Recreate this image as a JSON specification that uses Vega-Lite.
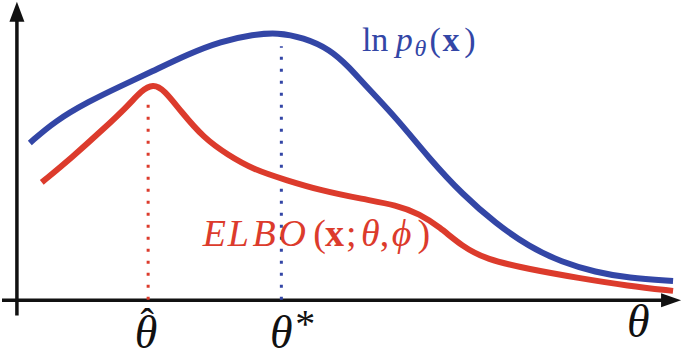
{
  "$schema": "https://vega.github.io/schema/vega-lite/v6.json",
  "width": 685,
  "height": 357,
  "padding": 0,
  "autosize": {"type": "fit", "contains": "padding"},
  "background": "white",
  "config": {"view": {"stroke": null}},
  "datasets": {
    "curves": [
      {"series": "log", "x": 1.3, "y": 15.9},
      {"series": "log", "x": 3.8, "y": 18.1},
      {"series": "log", "x": 7.2, "y": 20.1},
      {"series": "log", "x": 10.5, "y": 21.7},
      {"series": "log", "x": 13.5, "y": 23.1},
      {"series": "log", "x": 17.2, "y": 24.9},
      {"series": "log", "x": 20.5, "y": 26.2},
      {"series": "log", "x": 23.8, "y": 26.9},
      {"series": "log", "x": 26.2, "y": 27.1},
      {"series": "log", "x": 28.8, "y": 26.6},
      {"series": "log", "x": 31.5, "y": 25.4},
      {"series": "log", "x": 33.5, "y": 23.5},
      {"series": "log", "x": 34.8, "y": 22.0},
      {"series": "log", "x": 38.2, "y": 18.4},
      {"series": "log", "x": 41.5, "y": 14.3},
      {"series": "log", "x": 44.8, "y": 10.7},
      {"series": "log", "x": 48.2, "y": 7.7},
      {"series": "log", "x": 51.5, "y": 5.4},
      {"series": "log", "x": 54.8, "y": 3.8},
      {"series": "log", "x": 58.2, "y": 2.8},
      {"series": "log", "x": 61.5, "y": 2.2},
      {"series": "log", "x": 66.0, "y": 1.9},
      {"series": "elbo", "x": 2.5, "y": 11.9},
      {"series": "elbo", "x": 5.5, "y": 14.4},
      {"series": "elbo", "x": 8.8, "y": 17.4},
      {"series": "elbo", "x": 11.2, "y": 19.7},
      {"series": "elbo", "x": 12.5, "y": 21.2},
      {"series": "elbo", "x": 13.7, "y": 21.9},
      {"series": "elbo", "x": 14.8, "y": 21.3},
      {"series": "elbo", "x": 16.5, "y": 19.1},
      {"series": "elbo", "x": 18.8, "y": 16.4},
      {"series": "elbo", "x": 21.2, "y": 14.7},
      {"series": "elbo", "x": 23.8, "y": 13.2},
      {"series": "elbo", "x": 27.2, "y": 12.1},
      {"series": "elbo", "x": 30.5, "y": 11.1},
      {"series": "elbo", "x": 34.8, "y": 10.2},
      {"series": "elbo", "x": 38.2, "y": 9.6},
      {"series": "elbo", "x": 40.5, "y": 8.7},
      {"series": "elbo", "x": 42.5, "y": 7.4},
      {"series": "elbo", "x": 44.8, "y": 5.4},
      {"series": "elbo", "x": 47.2, "y": 4.1},
      {"series": "elbo", "x": 51.5, "y": 3.1},
      {"series": "elbo", "x": 56.5, "y": 2.2},
      {"series": "elbo", "x": 61.5, "y": 1.4},
      {"series": "elbo", "x": 66.0, "y": 0.9}
    ],
    "guides": [
      {"series": "elbo", "x": 13.2, "y": 0, "y2": 20.4},
      {"series": "log", "x": 26.6, "y": 0, "y2": 25.7}
    ],
    "labels": [
      {"id": "bn", "text": "ln", "x": 34.7, "y": 25.2},
      {"id": "bi", "text": "p", "x": 38.1, "y": 25.2},
      {"id": "bs", "text": "θ", "x": 40.0, "y": 24.7},
      {"id": "bn", "text": "(", "x": 41.5, "y": 25.2},
      {"id": "bb", "text": "x", "x": 42.8, "y": 25.2},
      {"id": "bn", "text": ")", "x": 45.0, "y": 25.2},
      {"id": "ri", "text": "E", "x": 18.7, "y": 5.4},
      {"id": "ri", "text": "L", "x": 21.2, "y": 5.4},
      {"id": "ri", "text": "B", "x": 23.7, "y": 5.4},
      {"id": "ri", "text": "O", "x": 26.3, "y": 5.4},
      {"id": "rn", "text": "(", "x": 29.8, "y": 5.4},
      {"id": "rb", "text": "x", "x": 31.0, "y": 5.4},
      {"id": "rn", "text": ";", "x": 33.1, "y": 5.4},
      {"id": "ri", "text": "θ", "x": 34.6, "y": 5.4},
      {"id": "rn", "text": ",", "x": 36.5, "y": 5.4},
      {"id": "ri", "text": "ϕ", "x": 37.7, "y": 5.4},
      {"id": "rn", "text": ")", "x": 40.3, "y": 5.4},
      {"id": "ai", "text": "θ", "x": 13.0, "y": -4.9},
      {"id": "ai", "text": "θ", "x": 26.6, "y": -4.9},
      {"id": "ai", "text": "θ", "x": 62.5, "y": -3.8},
      {"id": "ah", "text": "ˆ", "x": 13.1, "y": -3.7},
      {"id": "as", "text": "*", "x": 28.0, "y": -3.8}
    ],
    "axes": [
      {"x": -1.5, "x2": 65.0, "y": -0.05, "y2": -0.05},
      {"x": 0, "x2": 0, "y": -1.6, "y2": 28.4}
    ],
    "heads": [
      {"dir": "up", "x": 0, "y": 29.2},
      {"dir": "right", "x": 65.8, "y": -0.05}
    ]
  },
  "encoding": {
    "x": {"field": "x", "type": "quantitative", "scale": {"domain": [-1.5, 67], "nice": false, "zero": false}, "axis": null},
    "y": {"field": "y", "type": "quantitative", "scale": {"domain": [-5.3, 30.4], "nice": false, "zero": false}, "axis": null}
  },
  "layer": [
    {
      "data": {"name": "axes"},
      "mark": {"type": "rule", "color": "#111111", "strokeWidth": 3.5},
      "encoding": {"x2": {"field": "x2"}, "y2": {"field": "y2"}}
    },
    {
      "data": {"name": "heads"},
      "transform": [{"filter": "datum.dir === 'up'"}],
      "mark": {"type": "point", "shape": "M0,-1L0.75,1L-0.75,1Z", "filled": true, "color": "#111111", "opacity": 1, "size": 400, "strokeWidth": 0}
    },
    {
      "data": {"name": "heads"},
      "transform": [{"filter": "datum.dir === 'right'"}],
      "mark": {"type": "point", "shape": "M1,0L-1,-0.7L-1,0.7Z", "filled": true, "color": "#111111", "opacity": 1, "size": 400, "strokeWidth": 0}
    },
    {
      "data": {"name": "guides"},
      "mark": {"type": "rule", "strokeWidth": 3, "strokeDash": [3, 9]},
      "encoding": {
        "y2": {"field": "y2"},
        "color": {"field": "series", "type": "nominal", "scale": {"domain": ["log", "elbo"], "range": ["#3346a6", "#dc3b2c"]}, "legend": null}
      }
    },
    {
      "data": {"name": "curves"},
      "mark": {"type": "line", "strokeWidth": 6, "interpolate": "basis", "strokeCap": "butt"},
      "encoding": {
        "color": {"field": "series", "type": "nominal", "scale": {"domain": ["log", "elbo"], "range": ["#2d44a6", "#e03a2a"]}, "legend": null},
        "detail": {"field": "series"},
        "order": {"field": "x", "type": "quantitative"}
      }
    },
    {
      "data": {"name": "labels"},
      "transform": [{"filter": "datum.id === 'bn'"}],
      "mark": {"type": "text", "font": "Liberation Serif", "fontSize": 34, "color": "#3346a6", "align": "left", "baseline": "alphabetic"},
      "encoding": {"text": {"field": "text"}}
    },
    {
      "data": {"name": "labels"},
      "transform": [{"filter": "datum.id === 'bi'"}],
      "mark": {"type": "text", "font": "Liberation Serif", "fontStyle": "italic", "fontSize": 34, "color": "#3346a6", "align": "left", "baseline": "alphabetic"},
      "encoding": {"text": {"field": "text"}}
    },
    {
      "data": {"name": "labels"},
      "transform": [{"filter": "datum.id === 'bs'"}],
      "mark": {"type": "text", "font": "Liberation Serif", "fontStyle": "italic", "fontSize": 24, "color": "#3346a6", "align": "left", "baseline": "alphabetic"},
      "encoding": {"text": {"field": "text"}}
    },
    {
      "data": {"name": "labels"},
      "transform": [{"filter": "datum.id === 'bb'"}],
      "mark": {"type": "text", "font": "Liberation Serif", "fontWeight": "bold", "fontSize": 34, "color": "#3346a6", "align": "left", "baseline": "alphabetic"},
      "encoding": {"text": {"field": "text"}}
    },
    {
      "data": {"name": "labels"},
      "transform": [{"filter": "datum.id === 'ri'"}],
      "mark": {"type": "text", "font": "Liberation Serif", "fontStyle": "italic", "fontSize": 38, "color": "#dc3b2c", "align": "left", "baseline": "alphabetic"},
      "encoding": {"text": {"field": "text"}}
    },
    {
      "data": {"name": "labels"},
      "transform": [{"filter": "datum.id === 'rn'"}],
      "mark": {"type": "text", "font": "Liberation Serif", "fontSize": 38, "color": "#dc3b2c", "align": "left", "baseline": "alphabetic"},
      "encoding": {"text": {"field": "text"}}
    },
    {
      "data": {"name": "labels"},
      "transform": [{"filter": "datum.id === 'rb'"}],
      "mark": {"type": "text", "font": "Liberation Serif", "fontWeight": "bold", "fontSize": 38, "color": "#dc3b2c", "align": "left", "baseline": "alphabetic"},
      "encoding": {"text": {"field": "text"}}
    },
    {
      "data": {"name": "labels"},
      "transform": [{"filter": "datum.id === 'ai'"}],
      "mark": {"type": "text", "font": "Liberation Serif", "fontStyle": "italic", "fontSize": 46, "color": "#111111", "align": "center", "baseline": "alphabetic"},
      "encoding": {"text": {"field": "text"}}
    },
    {
      "data": {"name": "labels"},
      "transform": [{"filter": "datum.id === 'ah'"}],
      "mark": {"type": "text", "font": "Liberation Serif", "fontSize": 40, "color": "#111111", "align": "center", "baseline": "alphabetic"},
      "encoding": {"text": {"field": "text"}}
    },
    {
      "data": {"name": "labels"},
      "transform": [{"filter": "datum.id === 'as'"}],
      "mark": {"type": "text", "font": "Liberation Serif", "fontSize": 40, "color": "#111111", "align": "left", "baseline": "alphabetic"},
      "encoding": {"text": {"field": "text"}}
    }
  ]
}
